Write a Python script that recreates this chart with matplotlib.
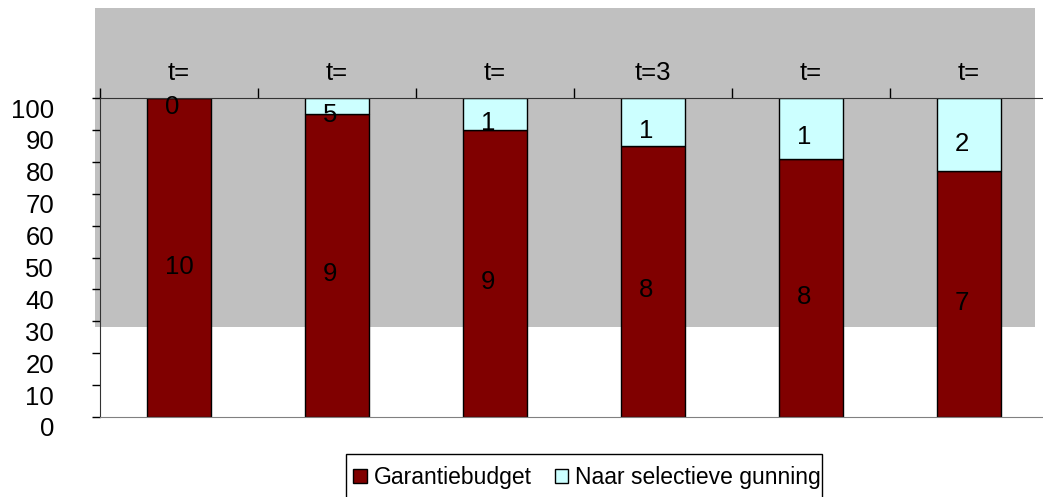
import matplotlib
matplotlib.use("Agg")
import matplotlib.pyplot as plt
import matplotlib.transforms as mtransforms
from matplotlib.patches import Rectangle

plt.rcParams['font.family'] = ['Liberation Sans', 'DejaVu Sans']

# data
periods = ["t=", "t=", "t=", "t=3", "t=", "t="]
garantie = [100, 95, 90, 85, 81, 77]
selectief = [0, 5, 10, 15, 19, 23]
# the labels are clipped in the original, so only the shown text is kept
garantie_lbl = ["10", "9", "9", "8", "8", "7"]
selectief_lbl = ["0", "5", "1", "1", "1", "2"]

W, H = 1043, 497
FS = 18.5
fig = plt.figure(figsize=(W / 100, H / 100), dpi=100)

# grey plot area (drawn as a figure patch, as in the reference)
fig.patches.append(Rectangle((95 / W, 1 - 327 / H), 940 / W, 319 / H,
                             transform=fig.transFigure, facecolor="#c0c0c0",
                             edgecolor="none", zorder=0))

ax = fig.add_axes([100 / W, 1 - 417 / H, 948 / W, 319 / H])
ax.set_zorder(2)
ax.patch.set_alpha(0)

x = list(range(len(periods)))
w = 0.41
ax.bar(x, garantie, w, color="#800000", edgecolor="black", linewidth=1,
       label="Garantiebudget", zorder=2)
ax.bar(x, selectief, w, bottom=garantie, color="#ccffff", edgecolor="black",
       linewidth=1, label="Naar selectieve gunning", zorder=2)

down = mtransforms.ScaledTranslation(0, -9 / 100, fig.dpi_scale_trans)
for i in x:
    ax.text(i - 0.09, garantie[i] / 2, garantie_lbl[i], ha="left",
            va="center", fontsize=FS, zorder=3,
            transform=ax.transData + down)
    ax.text(i - 0.09, garantie[i] + selectief[i] / 2, selectief_lbl[i],
            ha="left", va="center", fontsize=FS, zorder=3,
            transform=ax.transData + down)

ax.set_xlim(-0.5, len(periods) - 0.5)
ax.set_ylim(0, 100)

ax.set_yticks(range(0, 101, 10))
ax.tick_params(axis="y", direction="out", length=6, width=1, labelsize=FS,
               pad=27)
offset = mtransforms.ScaledTranslation(0, -10 / 100, fig.dpi_scale_trans)
for lab in ax.get_yticklabels():
    lab.set_transform(lab.get_transform() + offset)

ax.set_xticks([i - 0.5 for i in range(len(periods) + 1)])
ax.set_xticks(x, minor=True)
ax.set_xticklabels(periods, minor=True)
ax.tick_params(axis="x", which="major", top=True, bottom=False,
               labeltop=False, labelbottom=False, direction="out",
               length=7, width=1)
ax.tick_params(axis="x", which="minor", top=True, bottom=False,
               labeltop=True, labelbottom=False, length=0, labelsize=FS,
               pad=9)

ax.spines["right"].set_visible(False)
ax.spines["bottom"].set_color("#808080")
ax.spines["top"].set_color("#333333")
ax.spines["left"].set_color("#333333")

# legend frame drawn by hand so it can run off the bottom edge like the original
fig.patches.append(Rectangle((346 / W, 1 - 514 / H), 476 / W, 60 / H,
                             transform=fig.transFigure, facecolor="white",
                             edgecolor="black", linewidth=1, zorder=1))
leg = fig.legend(loc="upper left", bbox_to_anchor=(353 / W, 1 - 466 / H),
                 ncol=2, fontsize=16.5, frameon=False,
                 handlelength=0.6, handleheight=0.6, handletextpad=0.3,
                 columnspacing=1.0, borderpad=0, borderaxespad=0)
leg.set_zorder(3)

fig.savefig("out.png", dpi=100)
